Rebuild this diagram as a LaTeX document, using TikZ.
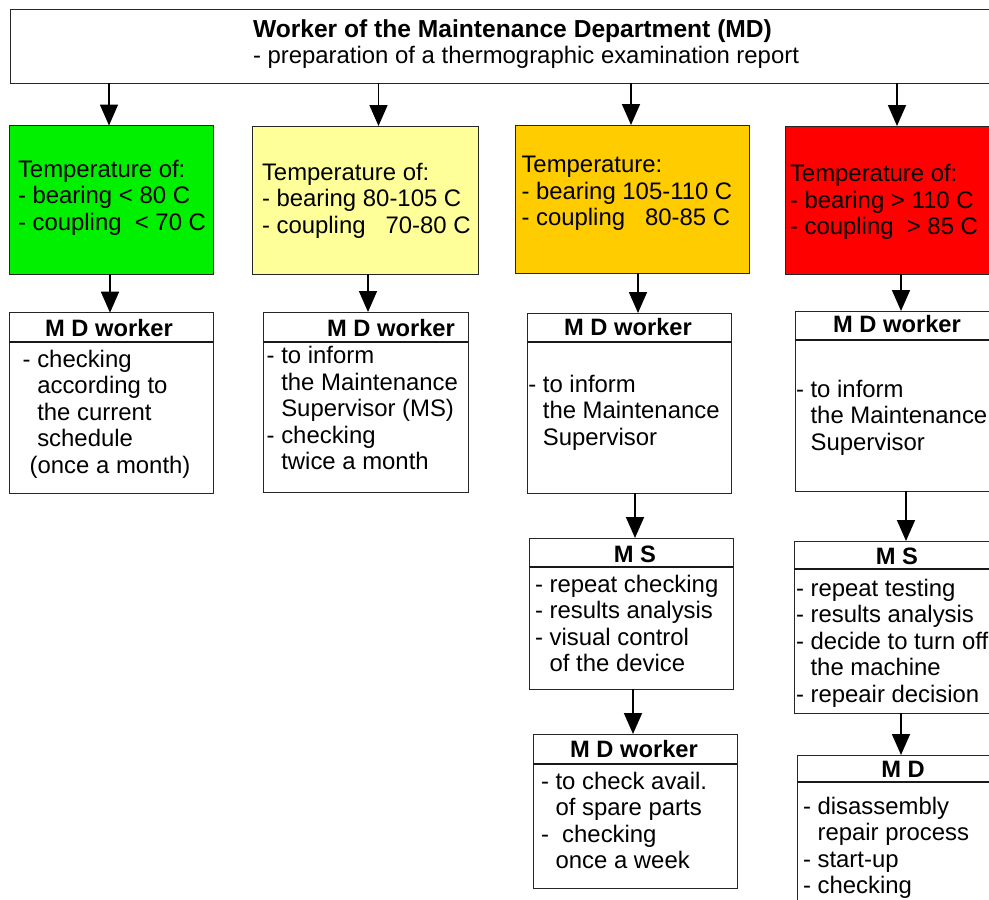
\documentclass[tikz,border=0pt]{standalone}
\usepackage{fontspec}
\setmainfont{Liberation Sans}
\usetikzlibrary{arrows.meta,calc}
\definecolor{cgreen}{HTML}{00F000}
\definecolor{cyellow}{HTML}{FFFF99}
\definecolor{corange}{HTML}{FFCC00}
\definecolor{cred}{HTML}{FF0000}
\newcommand{\ind}{\hphantom{- }}
\begin{document}
\begin{tikzpicture}[x=1pt,y=-1pt,
  box/.style={draw=black!85,line width=1pt,rectangle,inner sep=0pt,outer sep=0pt,anchor=north west},
  boxline/.style={draw=black!90,line width=1.4pt},
  txt/.style={inner sep=0pt,outer sep=0pt,align=left,anchor=base west,font=\fontsize{23.9}{26.5}\selectfont},
  hdr/.style={inner sep=0pt,outer sep=0pt,anchor=base,font=\fontsize{23.7}{26.5}\selectfont\bfseries},
  arr/.style={line width=1.7pt,-{Triangle[length=21pt,width=18pt]}}]
\useasboundingbox (0,0) rectangle (989,900);
\fill[white] (0,0) rectangle (989,900);
\clip (0,0) rectangle (989,900);
% boxes
\node[box,minimum width=990pt,minimum height=73.5pt] (top) at (10,9.5) {};
\node[box,fill=cgreen,minimum width=203.5pt,minimum height=148.5pt] (green) at (9.5,125.5) {};
\node[box,fill=cyellow,minimum width=226pt,minimum height=148pt] (yellow) at (252,126) {};
\node[box,fill=corange,minimum width=234pt,minimum height=148pt] (orange) at (515,125) {};
\node[box,fill=cred,minimum width=215pt,minimum height=148pt] (red) at (785,126) {};
\node[box,minimum width=203.7pt,minimum height=180.6pt] (b1) at (9.3,312.7) {};
\node[box,minimum width=205pt,minimum height=180pt] (b2) at (263,312) {};
\node[box,minimum width=204pt,minimum height=180pt] (b3) at (527,313) {};
\node[box,minimum width=205pt,minimum height=180pt] (b4) at (795,311) {};
\node[box,minimum width=204pt,minimum height=151pt] (ms1) at (529,538) {};
\node[box,minimum width=206pt,minimum height=172pt] (ms2) at (794,541) {};
\node[box,minimum width=204pt,minimum height=154pt] (mdw) at (533,734) {};
\node[box,minimum width=203pt,minimum height=195pt] (md) at (797,755) {};
% header lines
\draw[boxline] ($(b1.north west)+(0,29.3)$) -- ($(b1.north east)+(0,29.3)$);
\draw[boxline] ($(b2.north west)+(0,30)$) -- ($(b2.north east)+(0,30)$);
\draw[boxline] ($(b3.north west)+(0,29)$) -- ($(b3.north east)+(0,29)$);
\draw[boxline] ($(b4.north west)+(0,29)$) -- ($(b4.north east)+(0,29)$);
\draw[boxline] ($(ms1.north west)+(0,29)$) -- ($(ms1.north east)+(0,29)$);
\draw[boxline] ($(ms2.north west)+(0,28)$) -- ($(ms2.north east)+(0,28)$);
\draw[boxline] ($(mdw.north west)+(0,30)$) -- ($(mdw.north east)+(0,30)$);
\draw[boxline] ($(md.north west)+(0,27)$) -- ($(md.north east)+(0,27)$);
% texts (anchored at the baseline of their last line)
\node[txt] (ttop) at (253,63.5) {{\fontsize{24.6}{26.5}\selectfont\bfseries Worker of the Maintenance Department (MD)}\\- preparation of a thermographic examination report};
\node[txt] (tgreen) at (18,230) {Temperature of:\\- bearing < 80 C\\- coupling\ \ < 70 C};
\node[txt] (tyellow) at (262,233) {Temperature of:\\- bearing 80-105 C\\- coupling\ \ \ 70-80 C};
\node[txt] (torange) at (521.5,225.5) {Temperature:\\- bearing 105-110 C\\- coupling\ \ \ 80-85 C};
\node[txt] (tred) at (790,234.5) {Temperature of:\\- bearing > 110 C\\- coupling\ \ > 85 C};
\node[hdr] (h1) at (109,336) {M D worker};
\node[txt] (t1) at (22.7,473) {- checking\\\ind according to\\\ind the current\\\ind schedule\\\hspace*{7pt}(once a month)};
\node[hdr] (h2) at (391,336) {M D worker};
\node[txt] (t2) at (266.7,469.5) {- to inform\\\ind the Maintenance\\\ind Supervisor (MS)\\- checking\\\ind twice a month};
\node[hdr] (h3) at (628,335) {M D worker};
\node[txt] (t3) at (528.3,445) {- to inform\\\ind the Maintenance\\\ind Supervisor};
\node[hdr] (h4) at (897,332) {M D worker};
\node[txt] (t4) at (796,450) {- to inform\\\ind the Maintenance\\\ind Supervisor};
\node[hdr] (h5) at (635,562) {M S};
\node[txt] (t5) at (535,671.5) {- repeat checking\\- results analysis\\- visual control\\\ind of the device};
\node[hdr] (h6) at (897,564) {M S};
\node[txt] (t6) at (796,702) {- repeat testing\\- results analysis\\- decide to turn off\\\ind the machine\\- repeair decision};
\node[hdr] (h7) at (634,757) {M D worker};
\node[txt] (t7) at (541,868.5) {- to check avail.\\\ind of spare parts\\-\ \ checking\\\ind once a week};
\node[hdr] (h8) at (903,777) {M D};
\node[txt] (t8) at (803,893.5) {- disassembly\\\ind repair process\\- start-up\\- checking};
% arrow columns
\coordinate (x1) at (109,0);
\coordinate (x2) at (378.5,0);
\coordinate (x3) at (631,0);
\coordinate (x4) at (897,0);
\coordinate (x5) at (110,0);
\coordinate (x6) at (368,0);
\coordinate (x7) at (638,0);
\coordinate (x8) at (901,0);
\coordinate (x9) at (635,0);
\coordinate (x10) at (906,0);
\coordinate (x11) at (633,0);
\coordinate (x12) at (901,0);
\draw[arr] (top.south -| x1) -- (green.north -| x1);
\draw[arr] (top.south -| x2) -- (yellow.north -| x2);
\draw[arr] (top.south -| x3) -- (orange.north -| x3);
\draw[arr] (top.south -| x4) -- (red.north -| x4);
\draw[arr] (green.south -| x5) -- (b1.north -| x5);
\draw[arr] (yellow.south -| x6) -- (b2.north -| x6);
\draw[arr] (orange.south -| x7) -- (b3.north -| x7);
\draw[arr] (red.south -| x8) -- (b4.north -| x8);
\draw[arr] (b3.south -| x9) -- (ms1.north -| x9);
\draw[arr] (b4.south -| x10) -- (ms2.north -| x10);
\draw[arr] (ms1.south -| x11) -- (mdw.north -| x11);
\draw[arr] (ms2.south -| x12) -- (md.north -| x12);
\end{tikzpicture}
\end{document}
